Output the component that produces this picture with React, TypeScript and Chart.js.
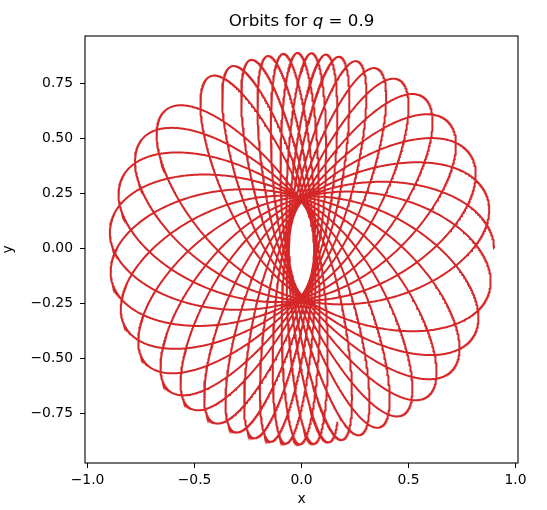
import React, { useEffect, useRef } from "react";
import { Chart, registerables } from "chart.js";
Chart.register(...registerables);

// Orbit parameters (logarithmic potential, flattening q)
const Q = 0.9;
const R_CORE = 0.14;
const START_POS = [0.9, 0.0];
const START_VEL = [0.0, 0.441];
const T_END = 100;
const DT = 0.004;

const X_LIMITS = [-1.012, 1.012];
const Y_LIMITS = [-0.973, 0.965];
const X_TICKS = [-1.0, -0.5, 0.0, 0.5, 1.0];
const Y_TICKS = [-0.75, -0.5, -0.25, 0.0, 0.25, 0.5, 0.75];
const TITLE_PARTS = ["Orbits for ", "q", " = 0.9"];
const X_LABEL = "x";
const Y_LABEL = "y";
const LINE_COLOR = "#d62728";
const FONT = "'DejaVu Sans', sans-serif";

function integrateOrbit() {
  const rc2 = R_CORE * R_CORE;
  const q2 = Q * Q;
  const acc = (x: number, y: number) => {
    const r2 = rc2 + x * x + (y * y) / q2;
    return [-x / r2, -y / (q2 * r2)];
  };
  let x = START_POS[0], y = START_POS[1], vx = START_VEL[0], vy = START_VEL[1];
  const pts: { x: number; y: number }[] = [{ x, y }];
  const n = Math.round(T_END / DT);
  const h = DT;
  for (let i = 0; i < n; i++) {
    const [a1x, a1y] = acc(x, y);
    const k1 = [vx, vy, a1x, a1y];
    const [a2x, a2y] = acc(x + 0.5 * h * k1[0], y + 0.5 * h * k1[1]);
    const k2 = [vx + 0.5 * h * k1[2], vy + 0.5 * h * k1[3], a2x, a2y];
    const [a3x, a3y] = acc(x + 0.5 * h * k2[0], y + 0.5 * h * k2[1]);
    const k3 = [vx + 0.5 * h * k2[2], vy + 0.5 * h * k2[3], a3x, a3y];
    const [a4x, a4y] = acc(x + h * k3[0], y + h * k3[1]);
    const k4 = [vx + h * k3[2], vy + h * k3[3], a4x, a4y];
    x += (h / 6) * (k1[0] + 2 * k2[0] + 2 * k3[0] + k4[0]);
    y += (h / 6) * (k1[1] + 2 * k2[1] + 2 * k3[1] + k4[1]);
    vx += (h / 6) * (k1[2] + 2 * k2[2] + 2 * k3[2] + k4[2]);
    vy += (h / 6) * (k1[3] + 2 * k2[3] + 2 * k3[3] + k4[3]);
    if (i % 2 === 1) pts.push({ x, y });
  }
  return pts;
}

const fmt = (v: number, d: number) => {
  const s = Math.abs(v).toFixed(d);
  return v < -1e-9 ? "\u2212" + s : s;
};

const framePlugin = {
  id: "frameAndTitle",
  afterDraw(chart: any) {
    const { ctx, chartArea } = chart;
    ctx.save();
    ctx.strokeStyle = "#000";
    ctx.lineWidth = 1.1;
    ctx.strokeRect(chartArea.left, chartArea.top, chartArea.right - chartArea.left, chartArea.bottom - chartArea.top);
    const size = 16.7;
    const fonts = [`${size}px ${FONT}`, `oblique ${size}px ${FONT}`, `${size}px ${FONT}`];
    const widths = TITLE_PARTS.map((t, i) => {
      ctx.font = fonts[i];
      return ctx.measureText(t).width;
    });
    const total = widths.reduce((a, b) => a + b, 0);
    let x = (chartArea.left + chartArea.right) / 2 - total / 2;
    const y = chartArea.top - 10;
    ctx.fillStyle = "#000";
    ctx.textBaseline = "alphabetic";
    ctx.textAlign = "left";
    TITLE_PARTS.forEach((t, i) => {
      ctx.font = fonts[i];
      ctx.fillText(t, x, y);
      x += widths[i];
    });
    ctx.restore();
  },
};

export default function App() {
  const ref = useRef<HTMLCanvasElement>(null);
  useEffect(() => {
    const pts = integrateOrbit();
    const tickFont = { family: FONT, size: 13.9 };
    const chart = new Chart(ref.current!, {
      type: "scatter",
      data: {
        datasets: [
          {
            data: pts,
            showLine: true,
            pointRadius: 0,
            borderColor: LINE_COLOR,
            borderWidth: 2,
            tension: 0,
          },
        ],
      },
      options: {
        animation: false,
        responsive: false,
        devicePixelRatio: 1,
        layout: { padding: { left: 0, right: 29, top: 36, bottom: 0 } },
        plugins: { legend: { display: false }, title: { display: false }, tooltip: { enabled: false } },
        scales: {
          x: {
            type: "linear",
            min: X_LIMITS[0],
            max: X_LIMITS[1],
            afterBuildTicks: (s: any) => {
              s.ticks = X_TICKS.filter((v) => v >= s.min && v <= s.max).map((v) => ({ value: v }));
            },
            afterFit: (s: any) => {
              s.height = 47;
            },
            ticks: { callback: (v: any) => fmt(Number(v), 1), color: "#000", font: tickFont, padding: 4, maxRotation: 0, autoSkip: false },
            grid: { drawOnChartArea: false, drawTicks: true, tickLength: 5, color: "#000", lineWidth: 1 },
            border: { display: false },
            title: { display: true, text: X_LABEL, color: "#000", font: { family: FONT, size: 13.9 }, padding: { top: 0, bottom: 2 } },
          },
          y: {
            type: "linear",
            min: Y_LIMITS[0],
            max: Y_LIMITS[1],
            afterBuildTicks: (s: any) => {
              s.ticks = Y_TICKS.filter((v) => v >= s.min && v <= s.max).map((v) => ({ value: v }));
            },
            afterFit: (s: any) => {
              s.width = 85;
            },
            ticks: { callback: (v: any) => fmt(Number(v), 2), color: "#000", font: tickFont, padding: 7, autoSkip: false },
            grid: { drawOnChartArea: false, drawTicks: true, tickLength: 5, color: "#000", lineWidth: 1 },
            border: { display: false },
            title: { display: true, text: Y_LABEL, color: "#000", font: { family: FONT, size: 13.9 }, padding: { top: 0, bottom: 0 } },
          },
        },
      },
      plugins: [framePlugin],
    });
    return () => chart.destroy();
  }, []);
  return (
    <div style={{ position: "absolute", left: 0, top: 0, width: 547, height: 510, background: "#fff" }}>
      <canvas ref={ref} width={547} height={510} style={{ display: "block" }} />
    </div>
  );
}
